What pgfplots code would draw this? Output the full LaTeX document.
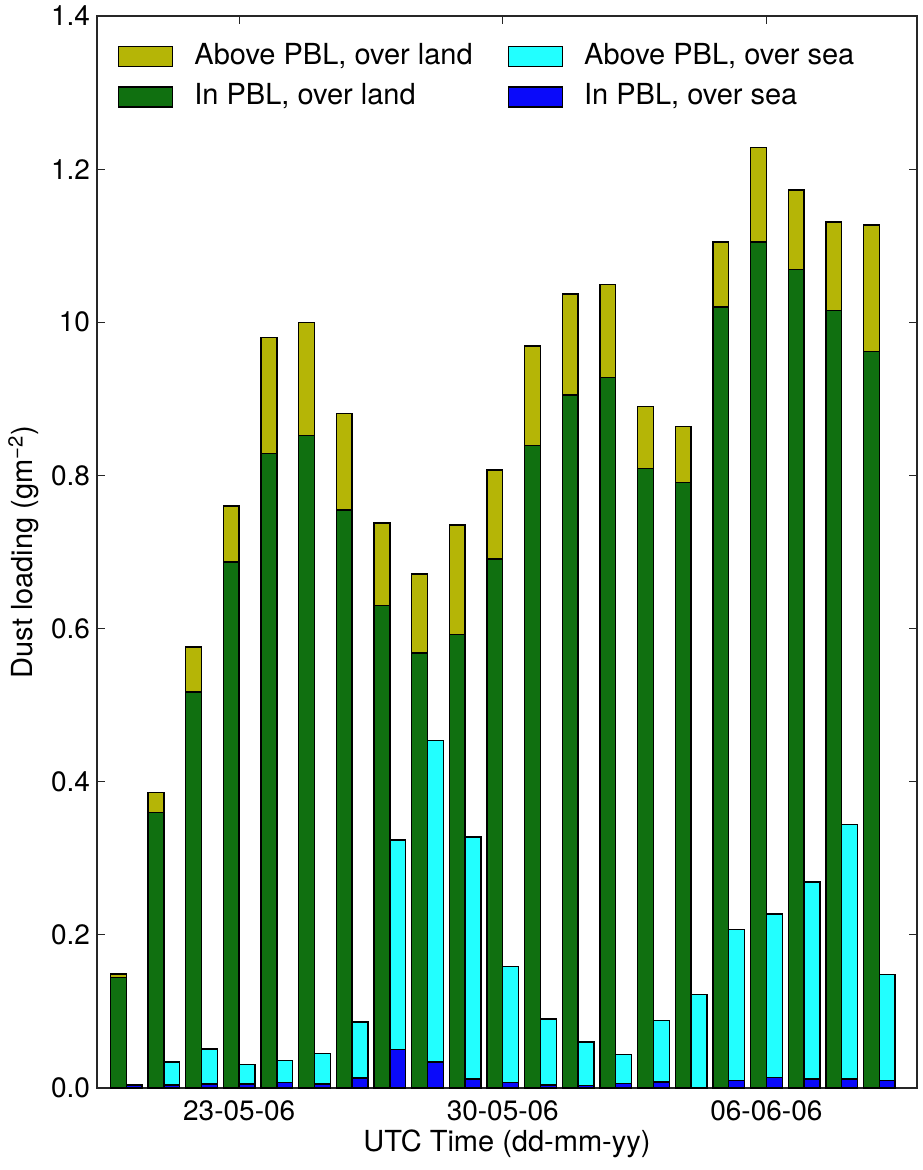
\documentclass[border=0pt]{standalone}
\usepackage{fontspec}
\setmainfont{TeX Gyre Heros}
\usepackage{pgfplots}
\usepackage{pgfplotstable}
\pgfplotsset{compat=1.18}
\definecolor{landabove}{HTML}{B5B506}
\definecolor{landpbl}{HTML}{107010}
\definecolor{seaabove}{HTML}{22FFFF}
\definecolor{seapbl}{HTML}{0A0AFA}
\pgfplotstableread{
day lpbl  labove spbl  sabove
0   0.144 0.005  0.003 0.001
1   0.360 0.026  0.004 0.030
2   0.517 0.059  0.005 0.046
3   0.687 0.073  0.005 0.026
4   0.829 0.151  0.007 0.029
5   0.852 0.148  0.005 0.040
6   0.755 0.126  0.013 0.073
7   0.630 0.108  0.050 0.274
8   0.568 0.103  0.034 0.420
9   0.592 0.143  0.012 0.316
10  0.691 0.116  0.007 0.152
11  0.839 0.130  0.004 0.086
12  0.905 0.132  0.003 0.057
13  0.928 0.121  0.006 0.038
14  0.809 0.081  0.008 0.080
15  0.791 0.073  0.001 0.121
16  1.020 0.085  0.010 0.197
17  1.105 0.123  0.014 0.213
18  1.069 0.104  0.012 0.257
19  1.015 0.116  0.012 0.332
20  0.962 0.165  0.010 0.138
}\dusttable
\pgfplotsset{
  base/.style={
    width=410pt, height=536pt, scale only axis,
    xmin=-0.776, xmax=21.0, ymin=0, ymax=1.4,
    ybar stacked, bar width=0.42,
  },
  barsty/.style={draw=black, line width=0.7pt},
}
\begin{document}
\begin{tikzpicture}
\path[use as bounding box] (-48.5pt,-41pt) rectangle (412.5pt,544pt);
\begin{axis}[base, bar shift=-0.21,
  axis line style={line width=0.9pt, black!85},
  tick pos=both, tick align=inside,
  major tick length=4pt,
  tick style={line width=0.5pt, black!85},
  xtick={3,10,17}, xticklabels={23-05-06,30-05-06,06-06-06},
  ytick={0,0.2,0.4,0.6,0.8,1.0,1.2,1.4},
  yticklabels={0.0,0.2,0.4,0.6,0.8,10,1.2,1.4},
  ticklabel style={font=\fontsize{14}{16}\selectfont},
  xticklabel style={yshift=-2.8pt},
  xlabel={UTC Time (dd-mm-yy)},
  ylabel={Dust loading (gm\textsuperscript{−2})},
  label style={font=\fontsize{14.5}{17}\selectfont},
  xlabel style={at={([yshift=-31.8pt]axis description cs:0.5,0)}, anchor=base},
  ylabel style={at={([xshift=-32pt]axis description cs:0,0.5)}, anchor=base},
]
\addplot[barsty, fill=landpbl] table[x=day, y=lpbl] {\dusttable};
\addplot[barsty, fill=landabove] table[x=day, y=labove] {\dusttable};
\end{axis}
\begin{axis}[base, bar shift=0.21, hide axis,
  legend columns=2,
  legend cell align=left,
  legend image code/.code={\draw[#1,draw=black,line width=0.7pt] (0pt,-5pt) rectangle (27pt,5pt);},
  legend style={at={(0.0256,0.9748)}, anchor=north west, draw=none, fill=none,
    inner sep=0pt, outer sep=0pt, row sep=6.75pt,
    font=\fontsize{14.5}{17}\selectfont,
    nodes={inner sep=0pt, text height=10.5pt, text depth=3pt},
    /tikz/every odd column/.append style={column sep=10.5pt},
    /tikz/every even column/.append style={column sep=17.5pt}},
]
\addplot[barsty, fill=seapbl, forget plot] table[x=day, y=spbl] {\dusttable};
\addplot[barsty, fill=seaabove, forget plot] table[x=day, y=sabove] {\dusttable};
\addlegendimage{fill=landabove}\addlegendentry{Above PBL, over land}
\addlegendimage{fill=seaabove}\addlegendentry{Above PBL, over sea}
\addlegendimage{fill=landpbl}\addlegendentry{In PBL, over land}
\addlegendimage{fill=seapbl}\addlegendentry{In PBL, over sea}
\end{axis}
\end{tikzpicture}
\end{document}
